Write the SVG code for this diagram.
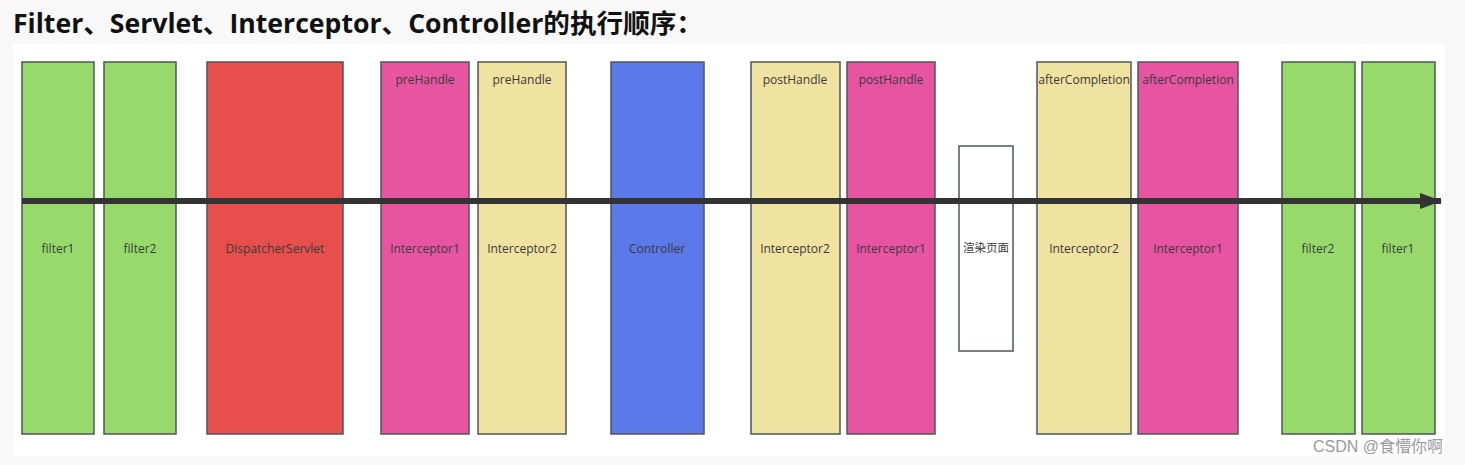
<svg xmlns="http://www.w3.org/2000/svg" width="1465" height="465" viewBox="0 0 1465 465">
<style>
.box{stroke:#4f5657;stroke-width:1.5}
.g{fill:#97da6b}.r{fill:#e74f4c}.p{fill:#e754a2}.t{fill:#f0e2a0}.b{fill:#5b79e8}.w{fill:#ffffff}
.lbl{font-family:"Open Sans","Noto Sans","Noto Sans CJK SC",sans-serif;font-size:12px;fill:#3a3a3a;text-anchor:middle}
.cjk{font-family:"Noto Sans CJK SC",sans-serif;font-size:11.5px;fill:#3a3a3a;text-anchor:middle}
</style>
<defs>
<marker id="ah" markerWidth="22" markerHeight="16" refX="21" refY="8" orient="auto" markerUnits="userSpaceOnUse">
<path d="M0,0 L22,8 L0,16 Z" fill="#333"/>
</marker>
</defs>
<rect x="0" y="0" width="1465" height="465" fill="#f8f8f8"/>
<rect x="13" y="43" width="1432" height="413" fill="#ffffff"/>
<text x="13" y="33" font-family="'Open Sans','Noto Sans','Noto Sans CJK SC',sans-serif" font-size="26" font-weight="bold" fill="#111" textLength="690" lengthAdjust="spacingAndGlyphs">Filter、Servlet、Interceptor、Controller的执行顺序：</text>
<g id="filter1a"><rect class="box g" x="22" y="62" width="72" height="372"/><text class="lbl" x="58" y="253">filter1</text></g>
<g id="filter2a"><rect class="box g" x="104" y="62" width="72" height="372"/><text class="lbl" x="140" y="253">filter2</text></g>
<g id="dispatcher"><rect class="box r" x="207" y="62" width="136" height="372"/><text class="lbl" x="275" y="253">DispatcherServlet</text></g>
<g id="pre1"><rect class="box p" x="381" y="62" width="88" height="372"/><text class="lbl" x="425" y="84">preHandle</text><text class="lbl" x="425" y="253">Interceptor1</text></g>
<g id="pre2"><rect class="box t" x="478" y="62" width="88" height="372"/><text class="lbl" x="522" y="84">preHandle</text><text class="lbl" x="522" y="253">Interceptor2</text></g>
<g id="controller"><rect class="box b" x="611" y="62" width="93" height="372"/><text class="lbl" x="657" y="253">Controller</text></g>
<g id="post2"><rect class="box t" x="751" y="62" width="89" height="372"/><text class="lbl" x="795" y="84">postHandle</text><text class="lbl" x="795" y="253">Interceptor2</text></g>
<g id="post1"><rect class="box p" x="847" y="62" width="88" height="372"/><text class="lbl" x="891" y="84">postHandle</text><text class="lbl" x="891" y="253">Interceptor1</text></g>
<g id="render"><rect class="box w" x="959" y="146" width="54" height="205"/><text class="cjk" x="986" y="252">渲染页面</text></g>
<g id="after2"><rect class="box t" x="1037" y="62" width="94" height="372"/><text class="lbl" x="1084" y="84">afterCompletion</text><text class="lbl" x="1084" y="253">Interceptor2</text></g>
<g id="after1"><rect class="box p" x="1138" y="62" width="100" height="372"/><text class="lbl" x="1188" y="84">afterCompletion</text><text class="lbl" x="1188" y="253">Interceptor1</text></g>
<g id="filter2b"><rect class="box g" x="1282" y="62" width="73" height="372"/><text class="lbl" x="1318" y="253">filter2</text></g>
<g id="filter1b"><rect class="box g" x="1362" y="62" width="73" height="372"/><text class="lbl" x="1398" y="253">filter1</text></g>
<g id="connectors"><line x1="22" y1="201" x2="1441" y2="201" stroke="#333" stroke-width="6" marker-end="url(#ah)"/></g>
<text x="1313" y="452" font-family="'Liberation Sans','Noto Sans CJK SC',sans-serif" font-size="16" fill="#9a9a9a">CSDN @食懵你啊</text>
</svg>
